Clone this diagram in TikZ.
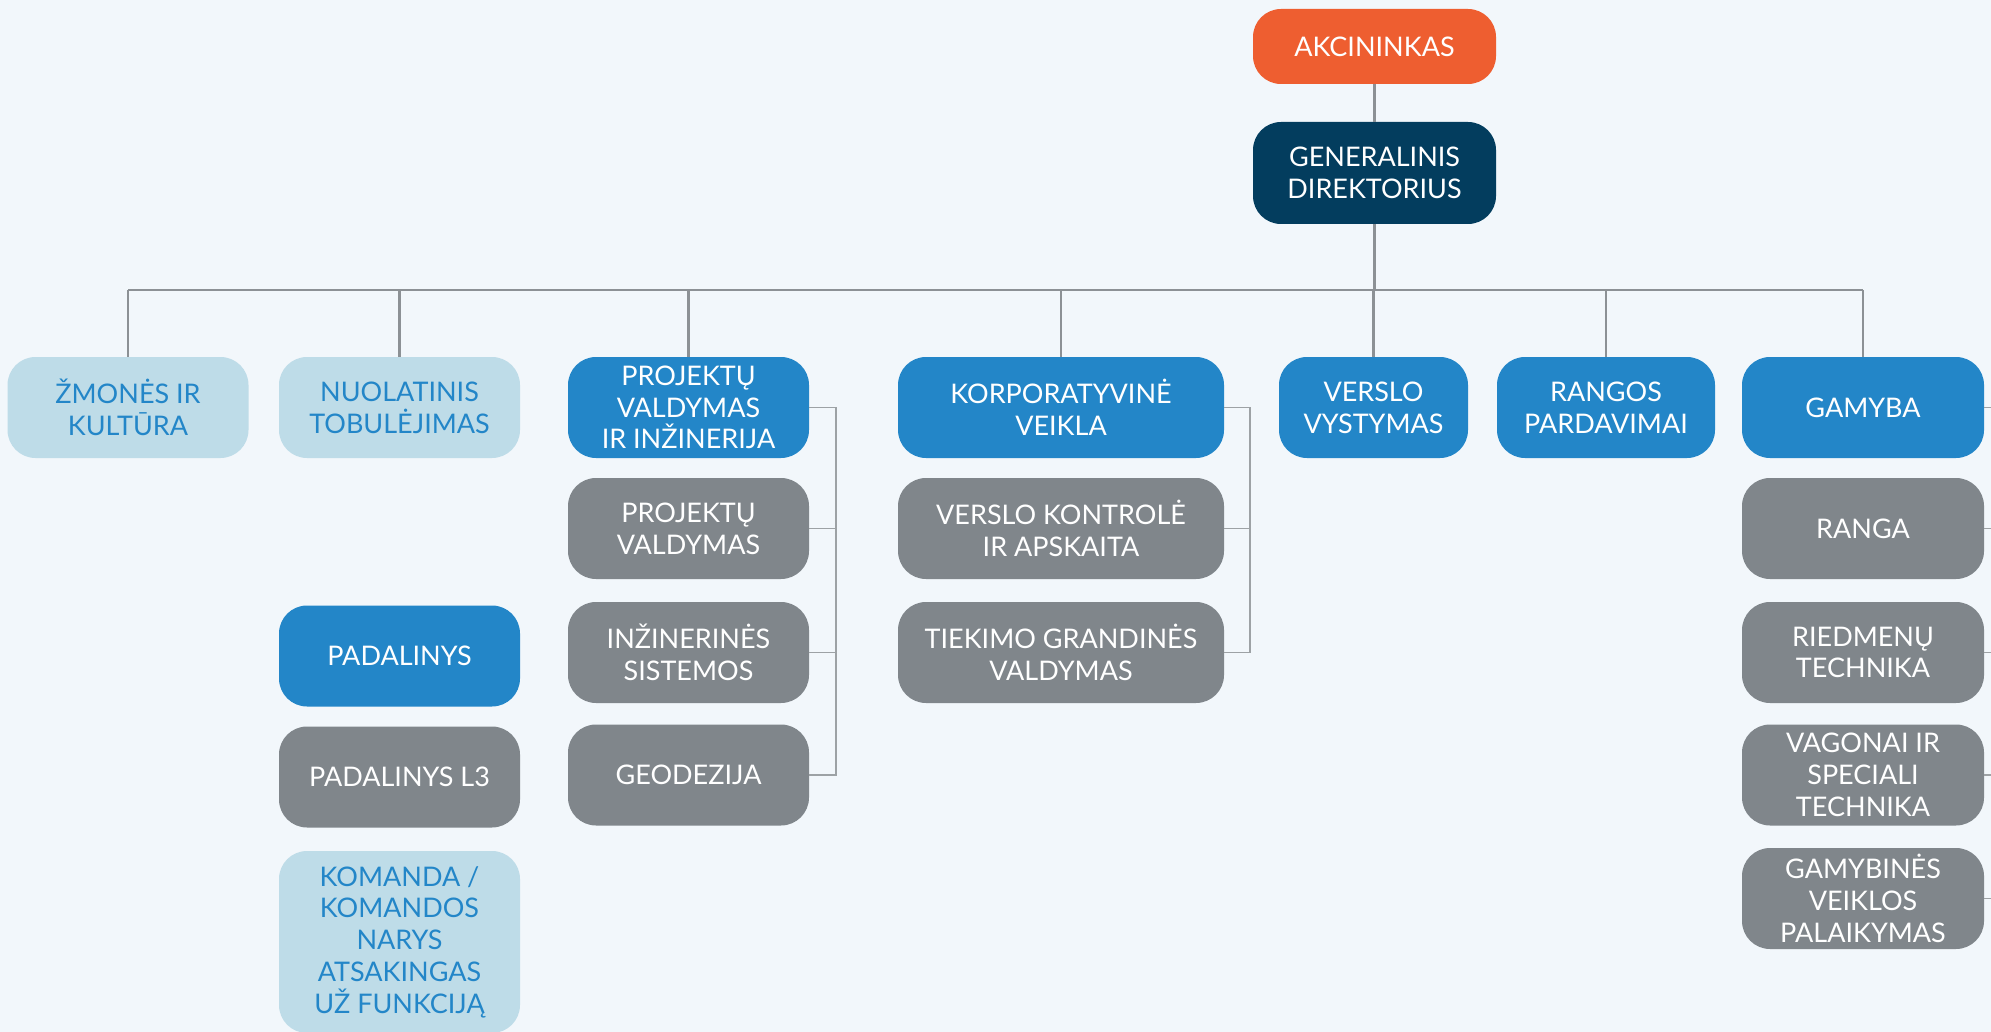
\documentclass[tikz,border=0pt]{standalone}
\usepackage{fontspec}
\setmainfont{Lato}
\usepackage{tikz}

\definecolor{bgc}{HTML}{F2F7FB}
\definecolor{orangec}{HTML}{EE5E30}
\definecolor{navyc}{HTML}{033D5E}
\definecolor{bluec}{HTML}{2386C8}
\definecolor{grayc}{HTML}{80868B}
\definecolor{lightc}{HTML}{BEDCE8}
\definecolor{linec}{HTML}{8C9195}

\begin{document}
\begin{tikzpicture}[x=0.5pt, y=-0.5pt,
    box/.style={rectangle, rounded corners=14pt, minimum height=50.5pt, inner sep=1pt, align=center, text=white, font=\fontsize{13.5}{15.85}\selectfont},
    ownerbox/.style={box, fill=orangec, minimum height=37.5pt},
    ceobox/.style={box, fill=navyc, minimum height=51pt},
    deptbox/.style={box, fill=bluec},
    subbox/.style={box, fill=grayc},
    softbox/.style={box, fill=lightc, text=bluec},
    link/.style={draw=linec, line width=1.2pt},
    barline/.style={draw=linec!85, line width=0.7pt},
]
    \useasboundingbox (0,0) rectangle (1991,1032);
    \clip (0,0) rectangle (1991,1032);
    \fill[bgc] (0,0) rectangle (1991,1032);

    \node[ownerbox, minimum width=121.5pt] (akc) at (1374.5,46.5) {AKCININKAS};
    \node[ceobox, minimum width=121.5pt] (gen) at (1374.5,173) {GENERALINIS\\DIREKTORIUS};

    \node[softbox, minimum width=120.5pt] (zmon) at (128,407.5) {ŽMONĖS IR\\KULTŪRA};
    \node[softbox, minimum width=120.5pt] (nuol) at (399.5,407.5) {NUOLATINIS\\TOBULĖJIMAS};
    \node[deptbox, minimum width=120.5pt] (proj) at (688.5,407.5) {PROJEKTŲ\\VALDYMAS\\IR INŽINERIJA};
    \node[deptbox, minimum width=163pt] (korp) at (1061,407.5) {KORPORATYVINĖ\\VEIKLA};
    \node[deptbox, minimum width=94.5pt] (vers) at (1373.5,407.5) {VERSLO\\VYSTYMAS};
    \node[deptbox, minimum width=109pt] (rang) at (1606,407.5) {RANGOS\\PARDAVIMAI};
    \node[deptbox, minimum width=121pt] (gam) at (1863,407.5) {GAMYBA};

    \node[subbox, minimum width=120.5pt] (pjval) at (688.5,528.5) {PROJEKTŲ\\VALDYMAS};
    \node[subbox, minimum width=120.5pt] (pjsis) at (688.5,652.5) {INŽINERINĖS\\SISTEMOS};
    \node[subbox, minimum width=120.5pt] (pjgeo) at (688.5,775) {GEODEZIJA};

    \node[subbox, minimum width=163pt] (kpkon) at (1061,528.5) {VERSLO KONTROLĖ\\IR APSKAITA};
    \node[subbox, minimum width=163pt] (kptie) at (1061,652.5) {TIEKIMO GRANDINĖS\\VALDYMAS};

    \node[subbox, minimum width=121pt] (gmran) at (1863,528.5) {RANGA};
    \node[subbox, minimum width=121pt] (gmrie) at (1863,652.5) {RIEDMENŲ\\TECHNIKA};
    \node[subbox, minimum width=121pt] (gmvag) at (1863,775) {VAGONAI IR\\SPECIALI\\TECHNIKA};
    \node[subbox, minimum width=121pt] (gmpal) at (1863,898.5) {GAMYBINĖS\\VEIKLOS\\PALAIKYMAS};

    \node[deptbox, minimum width=120.5pt] (pad) at (399.5,656) {PADALINYS};
    \node[subbox, minimum width=120.5pt] (padl) at (399.5,777) {PADALINYS L3};
    \node[softbox, minimum width=120.5pt, minimum height=91pt] (kom) at (399.5,942) {KOMANDA /\\KOMANDOS\\NARYS\\ATSAKINGAS\\UŽ FUNKCIJĄ};

    \coordinate (bus) at (0,290);
    \coordinate (edge) at (1991,0);
    \coordinate (pjbar) at (836,0);
    \coordinate (kpbar) at (1250,0);

    \draw[link] (akc) -- (gen);
    \draw[link] (gen.south) -- (gen.south |- bus);
    \draw[link] (zmon.north |- bus) -- (gam.north |- bus);
    \foreach \n in {zmon,nuol,proj,korp,vers,rang,gam}
        \draw[link] (\n.north) -- (\n.north |- bus);

    \draw[barline] (proj.east) -| (pjgeo.east -| pjbar) -- (pjgeo.east);
    \foreach \n in {pjval,pjsis}
        \draw[barline] (\n.east) -- (\n.east -| pjbar);
    \draw[barline] (korp.east) -| (kptie.east -| kpbar) -- (kptie.east);
    \draw[barline] (kpkon.east) -- (kpkon.east -| kpbar);
    \foreach \n in {gam,gmran,gmrie,gmvag,gmpal}
        \draw[barline] (\n.east) -- (\n.east -| edge);
\end{tikzpicture}
\end{document}
